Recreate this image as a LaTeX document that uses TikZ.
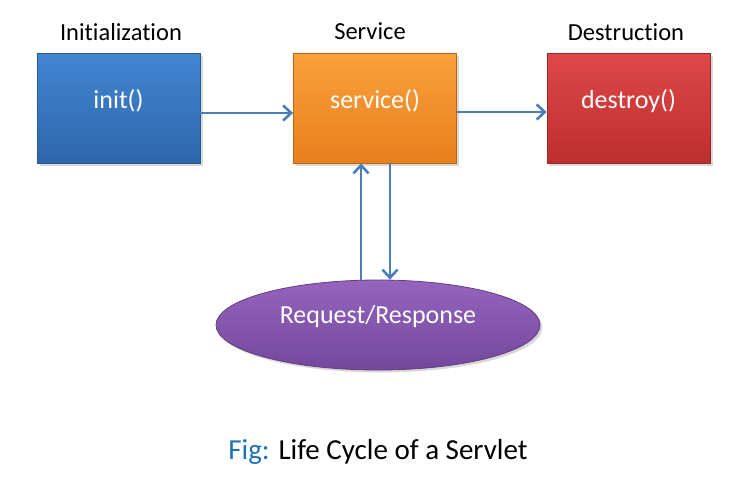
\documentclass[tikz,border=0pt]{standalone}
\usepackage{fontspec}
\setmainfont{Carlito}[Ligatures=NoCommon]
\usetikzlibrary{arrows.meta,shapes.geometric,shadows}
\definecolor{arr}{HTML}{4A7EBB}
\definecolor{figblue}{HTML}{1F72B8}
\definecolor{bluetop}{RGB}{66,134,209}
\definecolor{bluebot}{RGB}{46,102,172}
\definecolor{blueedge}{RGB}{40,90,150}
\definecolor{ortop}{RGB}{250,160,60}
\definecolor{orbot}{RGB}{232,128,28}
\definecolor{oredge}{RGB}{190,100,20}
\definecolor{redtop}{RGB}{222,72,72}
\definecolor{redbot}{RGB}{190,46,46}
\definecolor{rededge}{RGB}{150,40,40}
\definecolor{purtop}{RGB}{150,100,190}
\definecolor{purbot}{RGB}{115,72,155}
\definecolor{puredge}{RGB}{100,60,130}
\tikzset{
  box/.style={minimum width=163pt, minimum height=110pt, inner sep=0pt, line width=0.8pt, drop shadow={shadow xshift=2.5pt, shadow yshift=-2.5pt, opacity=0.3}},
  boxtext/.style={text=white, font=\fontsize{26}{30}\selectfont},
  lbl/.style={font=\fontsize{24.5}{28}\selectfont, text=black},
  conn/.style={draw=arr, line width=2.8pt, -{Straight Barb[length=8pt,width=15pt,line width=2.6pt]}},
}
\begin{document}
\begin{tikzpicture}[x=1pt,y=-1pt]
\useasboundingbox[fill=white] (0,0) rectangle (748,504);
\node[box, draw=blueedge, top color=bluetop, bottom color=bluebot] (init) at (118.5,108) {};
\node[box, draw=oredge, top color=ortop, bottom color=orbot] (service) at (375,108) {};
\node[box, draw=rededge, top color=redtop, bottom color=redbot] (destroy) at (628.5,108) {};
\node[boxtext] (tinit) at (118.5,101) {init()};
\node[boxtext] (tservice) at (375,101) {service()};
\node[boxtext] (tdestroy) at (628.5,101) {destroy()};
\node[ellipse, minimum width=324pt, minimum height=90pt, inner sep=0pt, draw=puredge, line width=0.8pt, top color=purtop, bottom color=purbot, drop shadow={shadow xshift=2.5pt, shadow yshift=-2.5pt, opacity=0.3}] (rr) at (378,325) {};
\node[boxtext] (trr) at (378,317) {Request/Response};
\node[lbl] (l1) at (121,32) {Initialization};
\node[lbl] (l2) at (370,31) {Service};
\node[lbl] (l3) at (626,32) {Destruction};
\node[font=\fontsize{29}{33}\selectfont] (cap) at (378,452) {\textcolor{figblue}{Fig:} Life Cycle of a Servlet};
\draw[conn] (init.east |- 0,113) -- (service.west |- 0,113);
\draw[conn] (service.east |- 0,112) -- (destroy.west |- 0,112);
\draw[conn] (rr.north -| 361,0) -- (service.south -| 361,0);
\draw[conn] (service.south -| 390,0) -- (rr.north -| 390,0);
\end{tikzpicture}
\end{document}
